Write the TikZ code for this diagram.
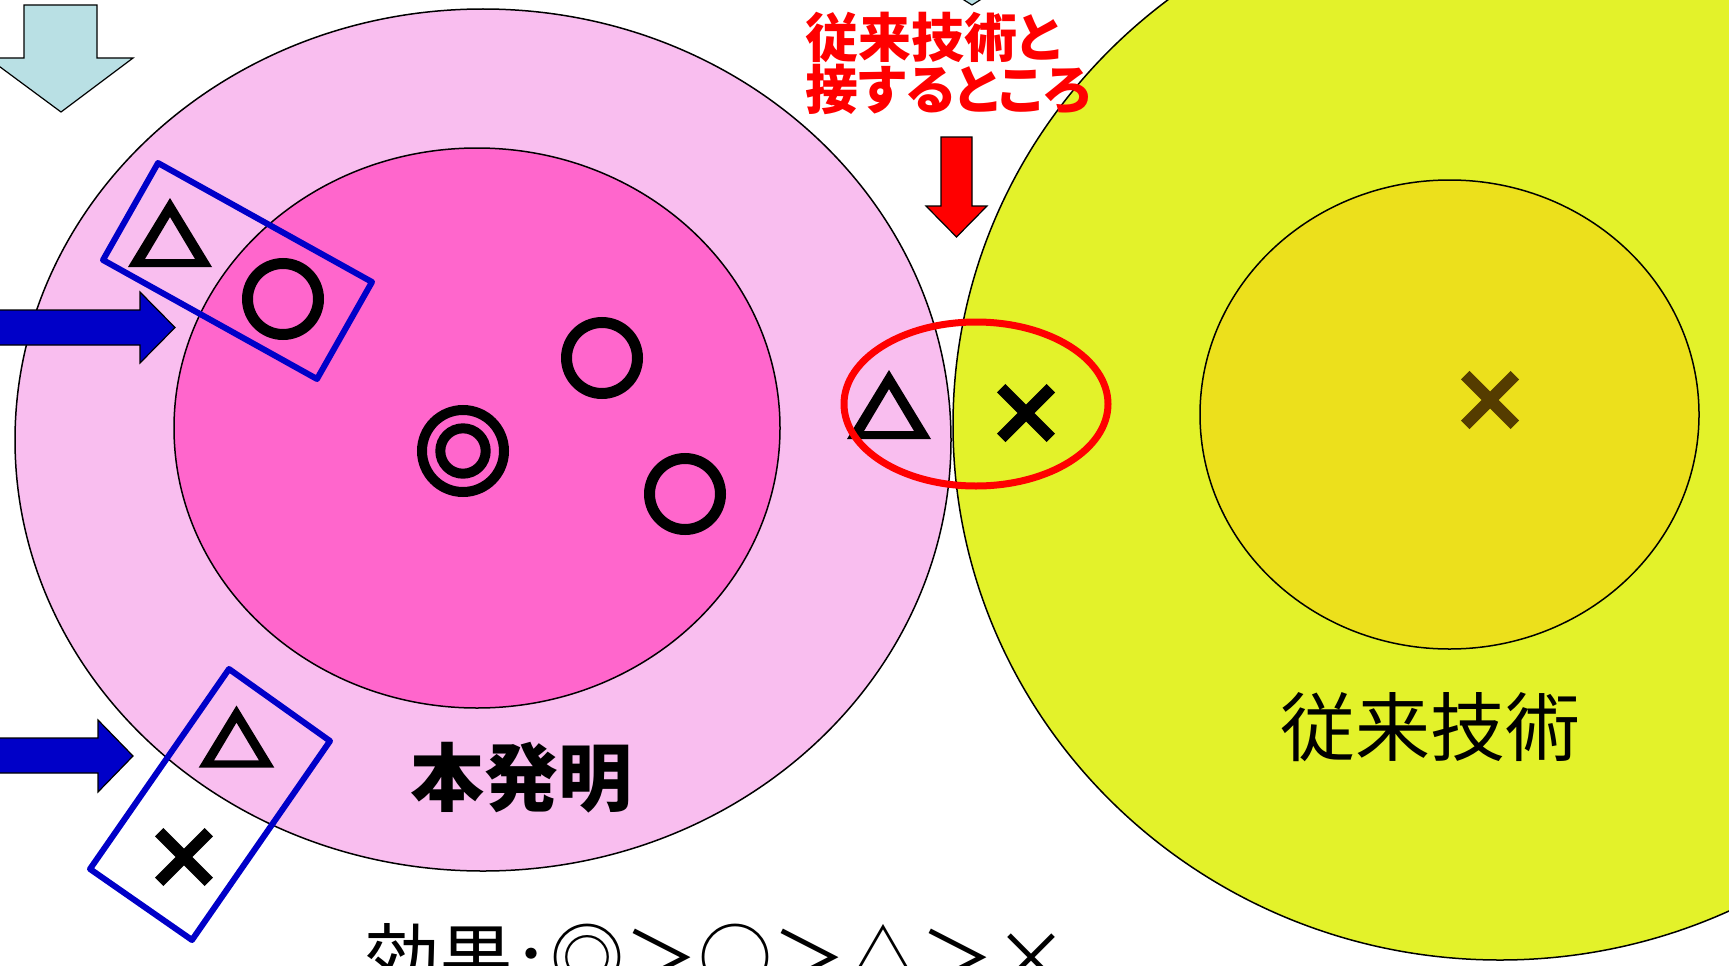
\documentclass[tikz,border=0pt]{standalone}
\usepackage{fontspec}
\newfontfamily\jp{Noto Sans CJK JP}
\newfontfamily\jpp{Noto Sans CJK JP}[RawFeature=+palt]
\definecolor{pinkout}{RGB}{249,190,239}
\definecolor{magin}{RGB}{255,102,204}
\definecolor{yelout}{RGB}{227,242,42}
\definecolor{yelin}{RGB}{236,224,28}
\definecolor{lblue}{RGB}{185,224,228}
\definecolor{bluec}{RGB}{0,0,200}
\definecolor{redc}{RGB}{255,0,0}
\definecolor{xbrown}{RGB}{85,60,0}
\tikzset{
  region/.style={draw=black, line width=1.5},
  blockarrow/.style={draw=black, line width=1.2, line join=miter},
  groupbox/.style={draw=bluec, line width=6, line join=round},
  ring/.pic={\draw[line width=11] (0,0) circle [radius=35.5];},
  dring/.pic={\draw[line width=10] (0,0) circle [radius=41] (0,0) circle [radius=22.7];},
  tri/.pic={\fill[even odd rule] (0,-35)--(-42,34)--(42,34)--cycle (0,-16)--(-25,26)--(25,26)--cycle;},
  xmark/.pic={\draw[line width=12] (-24.8,-24.8)--(24.8,24.8) (-24.8,24.8)--(24.8,-24.8);},
  label/.style={inner sep=0, outer sep=0}
}
\begin{document}
\begin{tikzpicture}[x=1pt,y=-1pt]
\useasboundingbox (0,0) rectangle (1729,966);
\clip (0,0) rectangle (1729,966);
\fill[white] (0,0) rectangle (1729,966);
% regions
\draw[region, fill=pinkout] (483,440) ellipse [x radius=468, y radius=431];
\draw[region, fill=magin] (477,428) ellipse [x radius=303, y radius=280];
\draw[region, fill=yelout] (1500,425) ellipse [x radius=547, y radius=535];
\draw[region, fill=yelin] (1449.5,414.5) ellipse [x radius=249.5, y radius=234.5];
% symbols
\pic at (283,299) {ring};
\pic at (602,358) {ring};
\pic at (685,494) {ring};
\pic at (463,451) {dring};
\pic at (170,233) {tri};
\pic[scale=0.9] at (236.5,737) {tri};
\pic at (889,405) {tri};
\pic at (184,857) {xmark};
\pic at (1026,413) {xmark};
\pic[color=xbrown] at (1490,400) {xmark};
% red ellipse
\draw[redc, line width=7] (976,404) ellipse [x radius=132, y radius=82];
% blue boxes
\draw[groupbox] (158,163)--(372,282)--(317,379)--(103,260)--cycle;
\draw[groupbox] (229,669)--(330,741)--(192,940)--(90,869)--cycle;
% block arrows
\draw[blockarrow, fill=lblue] (24,5)--(97,5)--(97,58)--(133,58)--(61,112)--(-12,58)--(24,58)--cycle;
\draw[blockarrow, fill=lblue] (940,-15)--(972,5)--(1004,-15)--cycle;
\draw[blockarrow, fill=redc] (941,137)--(972,137)--(972,206)--(987,206)--(956.5,237)--(926,206)--(941,206)--cycle;
\draw[blockarrow, fill=bluec] (-5,310)--(140,310)--(140,292)--(175,327.5)--(140,363)--(140,345)--(-5,345)--cycle;
\draw[blockarrow, fill=bluec] (-5,738)--(98,738)--(98,720)--(133,756)--(98,792)--(98,773)--(-5,773)--cycle;
% texts
\node[label, anchor=north west, align=left, text=redc, font=\jpp\bfseries\fontsize{53}{50}\selectfont] (contact) at (805,12) {従来技術と\\接するところ};
\node[label, anchor=base, font=\jp\bfseries\fontsize{74}{80}\selectfont] (invention) at (521,805) {本発明};
\node[label, anchor=base, font=\jp\fontsize{75}{80}\selectfont] (prior) at (1430,755) {従来技術};
\node[label, anchor=base west, font=\jp\fontsize{74}{80}\selectfont] (effect) at (365,985) {効果\raisebox{-14pt}{\jpp ：}◎＞○＞△＞×};
\end{tikzpicture}
\end{document}
